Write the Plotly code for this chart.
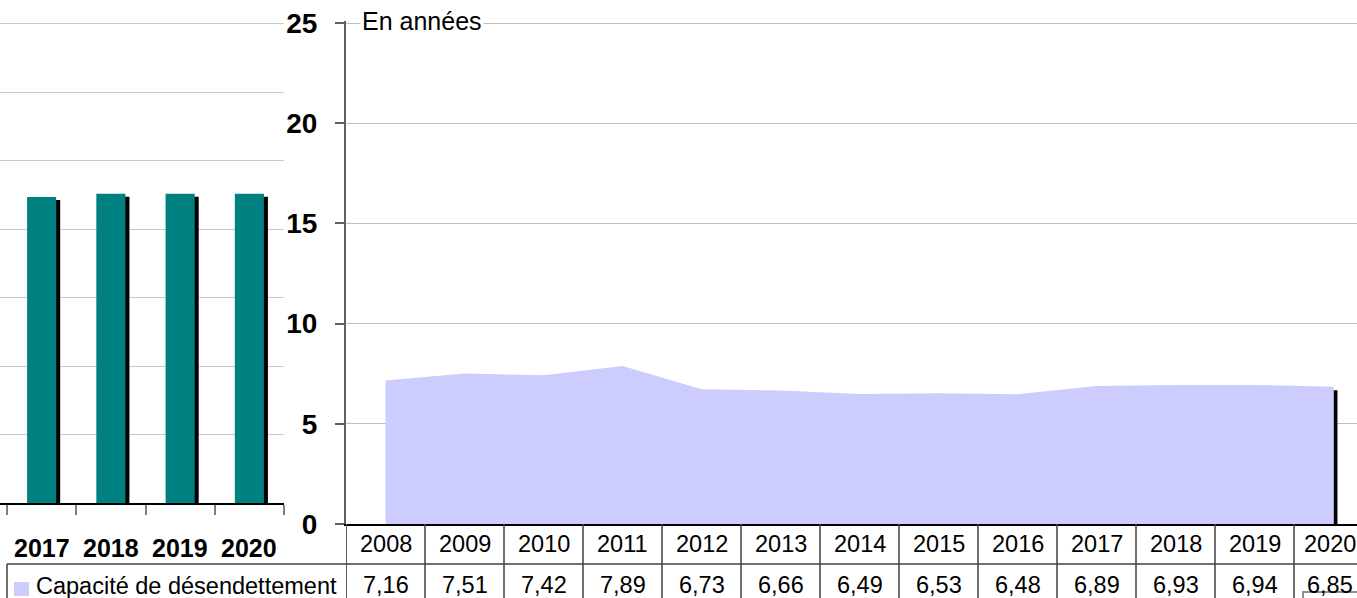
import plotly.graph_objects as go

W, H = 1357, 598

# ---------------- data ----------------
years = ["2008", "2009", "2010", "2011", "2012", "2013", "2014",
         "2015", "2016", "2017", "2018", "2019", "2020"]
capacite = [7.16, 7.51, 7.42, 7.89, 6.73, 6.66, 6.49, 6.53, 6.48, 6.89, 6.93, 6.94, 6.85]
series_name = "Capacité de désendettement"
unit_label = "En années"
y_ticks = [0, 5, 10, 15, 20, 25]

left_years = [2017, 2018, 2019, 2020]
left_values = [4.47, 4.52, 4.52, 4.52]

FONT = "Liberation Sans, Arial, sans-serif"


def px(x):
    return x / W


def py(y):
    return 1 - y / H


idx = list(range(len(years)))

fig = go.Figure()

# left (cropped) bar chart: 3D shadow then teal face
fig.add_trace(go.Bar(x=left_years, y=left_values, base=-0.044, width=0.42, offset=-0.152,
                     marker=dict(color="black", line=dict(width=0)),
                     xaxis="x2", yaxis="y2", showlegend=False, hoverinfo="skip"))
fig.add_trace(go.Bar(x=left_years, y=left_values, width=0.42, offset=-0.21,
                     marker=dict(color="#008080", line=dict(width=0)),
                     xaxis="x2", yaxis="y2", showlegend=False))

# right area chart
fig.add_trace(go.Scatter(x=idx, y=capacite, mode="lines", fill="tozeroy",
                         fillcolor="#CCCCFF", line=dict(width=0, color="#CCCCFF"),
                         name=series_name, showlegend=False))
# depth edge of the area at the last year
fig.add_trace(go.Bar(x=[idx[-1]], y=[capacite[-1]], base=-0.17, width=0.05, offset=0,
                     marker=dict(color="black", line=dict(width=0)),
                     showlegend=False, hoverinfo="skip"))

annotations = []
# left chart year labels
for yr in left_years:
    annotations.append(dict(x=yr, y=py(548), xref="x2", yref="paper", text=f"<b>{yr}</b>",
                            showarrow=False, xanchor="center", yanchor="middle",
                            font=dict(family=FONT, size=25, color="black")))
# unit label
annotations.append(dict(x=px(360), y=py(21), xref="paper", yref="paper", text=unit_label,
                        showarrow=False, xanchor="left", yanchor="middle", bgcolor="white",
                        borderpad=1, font=dict(family=FONT, size=25, color="black")))
# data table
last = len(years) - 1
for i, (yr, v) in enumerate(zip(years, capacite)):
    shift = -4 if i == last else 0
    annotations.append(dict(x=i, y=py(544), xref="x", yref="paper", text=yr,
                            showarrow=False, xanchor="center", yanchor="middle", xshift=shift,
                            font=dict(family=FONT, size=23.5, color="black")))
    annotations.append(dict(x=i, y=py(585), xref="x", yref="paper",
                            text=f"{v:.2f}".replace(".", ","), xshift=shift,
                            showarrow=False, xanchor="center", yanchor="middle",
                            font=dict(family=FONT, size=23.5, color="black")))
annotations.append(dict(x=px(34), y=py(586), xref="paper", yref="paper", text=series_name,
                        showarrow=False, xanchor="left", yanchor="middle",
                        font=dict(family=FONT, size=23.5, color="black")))

TABLE = "#404040"
shapes = []
# continuation of the value axis through the table
shapes.append(dict(type="line", xref="x", yref="paper", x0=-0.5, x1=-0.5,
                   y0=py(600), y1=py(524), line=dict(color="#606060", width=2)))
# column separators
for i in idx[:-1]:
    shapes.append(dict(type="line", xref="x", yref="paper", x0=i + 0.5, x1=i + 0.5,
                       y0=py(600), y1=py(524), line=dict(color=TABLE, width=1.5)))
# row separator
shapes.append(dict(type="line", xref="paper", yref="paper", x0=px(7), x1=1,
                   y0=py(564), y1=py(564), line=dict(color=TABLE, width=1.5)))
# legend cell left border
shapes.append(dict(type="line", xref="paper", yref="paper", x0=px(7), x1=px(7),
                   y0=py(600), y1=py(564), line=dict(color=TABLE, width=1.5)))
# legend key
shapes.append(dict(type="rect", xref="paper", yref="paper", x0=px(14), x1=px(29),
                   y0=py(596), y1=py(582), fillcolor="#CCCCFF", line=dict(width=0)))
# small selection-box artefact at bottom right
shapes.append(dict(type="rect", xref="paper", yref="paper", x0=px(1303), x1=px(1365),
                   y0=py(606), y1=py(592), fillcolor="rgba(0,0,0,0)",
                   line=dict(color="#909090", width=2)))

fig.update_layout(
    width=W, height=H,
    margin=dict(l=0, r=0, t=0, b=0, pad=0, autoexpand=False),
    paper_bgcolor="white", plot_bgcolor="white",
    barmode="overlay",
    showlegend=False,
    font=dict(family=FONT, color="black"),
    xaxis=dict(domain=[px(346), 1], range=[-0.5, -0.5 + (W - 346) / 79.0],
               showgrid=False, zeroline=False, showticklabels=False, ticks="",
               showline=True, linecolor="black", linewidth=2, fixedrange=True,
               automargin=False),
    yaxis=dict(domain=[py(524), py(21)], range=[0, 25.1], tickvals=y_ticks,
               ticks="outside", ticklen=9, tickcolor="#606060", tickwidth=1.5,
               showline=True, linecolor="#606060", linewidth=2,
               showgrid=True, gridcolor="#c0c0c0", gridwidth=1, zeroline=False,
               tickfont=dict(family=FONT, size=28, color="black", weight="bold"),
               ticklabelstandoff=12, fixedrange=True, automargin=False),
    xaxis2=dict(domain=[0, px(284)], range=[2016.399, 2020.5], anchor="y2",
                tickvals=[2016.5, 2017.5, 2018.5, 2019.5, 2020.5], ticks="outside",
                ticklen=10, tickcolor="#808080", tickwidth=2, showticklabels=False,
                showline=True, linecolor="black", linewidth=2, showgrid=False,
                zeroline=False, fixedrange=True, automargin=False),
    yaxis2=dict(domain=[py(503), 1], range=[0, 7.35], dtick=1, anchor="x2",
                showticklabels=False, showgrid=True, gridcolor="#c8c8c8", gridwidth=1,
                zeroline=False, showline=False, fixedrange=True, automargin=False),
    annotations=annotations,
    shapes=shapes,
)

fig.write_html("out.html", config={"displayModeBar": False},
               post_script="document.body.style.margin='0';document.body.style.overflow='hidden';")
